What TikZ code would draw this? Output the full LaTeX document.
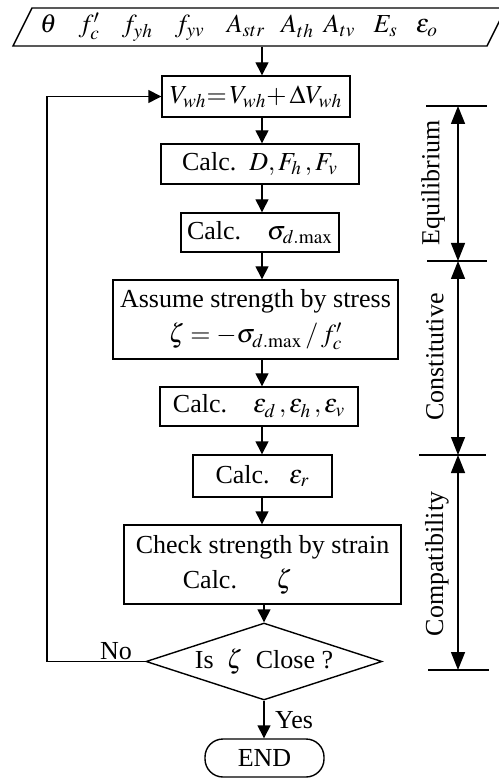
\documentclass[tikz,border=0pt]{standalone}
\usepackage{mathptmx}
\usepackage{fontspec}
\setmainfont{Liberation Serif}
\usetikzlibrary{arrows.meta,shapes.geometric}
\begin{document}
\begin{tikzpicture}[x=0.5pt,y=-0.5pt,
  font=\fontsize{13}{17.5}\selectfont,
  line width=0.7pt,
  box/.style={draw,rectangle,inner sep=0pt,align=center},
  arr/.style={-{Triangle[length=6.5pt,width=6.5pt]}},
  dimarr/.style={{Triangle[length=9pt,width=7pt]}-{Triangle[length=9pt,width=7pt]}},
  lbl/.style={inner sep=0pt},
]
\useasboundingbox (0,0) rectangle (498,779);
\coordinate (ax) at (262,0);
\coordinate (lp) at (47,0);
% input parallelogram
\draw (13,46) -- (32,8) -- (506,8) -- (487,46) -- cycle;
\node[lbl,minimum height=19pt] (inp) at (239,27)
 {$\theta$\hspace{11pt}$f'_c$\hspace{11pt}$f_{yh}$\hspace{11pt}$f_{yv}$\hspace{11pt}$A_{str}$\hspace{8pt}$A_{th}$\hspace{5pt}$A_{tv}$\hspace{9pt}$E_s$\hspace{9pt}$\varepsilon_o$};
% boxes
\node[box,minimum width=94pt,minimum height=20.5pt] (b1) at (256,96.5) {$V_{wh}{=}\,V_{wh}{+}\,\Delta V_{wh}$};
\node[box,minimum width=99pt,minimum height=20pt] (b2) at (260,164) {Calc.\ \ $D,F_h\,,F_v$};
\node[box,minimum width=79pt,minimum height=19.5pt] (b3) at (260,232.5) {Calc.\quad$\sigma_{d.\mathrm{max}}$};
\node[box,minimum width=142.5pt,minimum height=39.5pt] (b4) at (255.5,319.5) {Assume strength by stress\\$\zeta=-\sigma_{d.\mathrm{max}}\,/\,f'_c$};
\node[box,minimum width=99pt,minimum height=19.5pt] (b5) at (259,406.5) {Calc.\quad$\varepsilon_d\,,\varepsilon_h\,,\varepsilon_v$};
\node[box,minimum width=69.5pt,minimum height=21pt] (b6) at (262.5,476) {Calc.\ \ \ $\varepsilon_r$};
\node[box,minimum width=138.5pt,minimum height=39.5pt] (b7) at (262.5,564.5) {Check strength by strain\\Calc.\quad\ \ $\zeta$\hspace*{25pt}};
\node[draw,diamond,aspect=3.06,minimum width=118pt,minimum height=38.5pt,inner sep=0pt] (dia) at (264,661.5) {Is\ \ $\zeta$\ \ Close ?};
\node[draw,rounded corners=9pt,minimum width=59.5pt,minimum height=19pt,inner sep=0pt] (fin) at (264.5,758) {END};
\node[lbl] (no) at (116,651) {No};
\node[lbl] (yes) at (294,720) {Yes};
% flow arrows
\draw[arr] (inp.south -| ax) -- (b1.north -| ax);
\draw[arr] (b1.south -| ax) -- (b2.north -| ax);
\draw[arr] (b2.south -| ax) -- (b3.north -| ax);
\draw[arr] (b3.south -| ax) -- (b4.north -| ax);
\draw[arr] (b4.south -| ax) -- (b5.north -| ax);
\draw[arr] (b5.south -| ax) -- (b6.north -| ax);
\draw[arr] (b6.south -| ax) -- (b7.north -| ax);
\draw[arr] (b7.south -| dia.north) -- (dia.north);
\draw[arr] (dia.south) -- (dia.south |- fin.north);
\draw[arr] (dia.west) -- (dia.west -| lp) -- (b1.west -| lp) -- (b1.west);
% dimension brackets
\coordinate (t0) at (458,106);
\coordinate (t1) at (458,261);
\coordinate (t2) at (458,455);
\coordinate (t3) at (458,670);
\draw (426,106) -- (487,106);
\draw (427,261) -- (487,261);
\draw (419,455) -- (486,455);
\draw (428,670) -- (489,670);
\draw[dimarr] (t0) -- (t1);
\draw[dimarr] (t1) -- (t2);
\draw[dimarr] (t2) -- (t3);
\node[lbl,rotate=90] (eq) at (433,183) {Equilibrium};
\node[lbl,rotate=90] (co) at (435,357) {Constitutive};
\node[lbl,rotate=90] (cm) at (437,564) {Compatibility};
\end{tikzpicture}
\end{document}
